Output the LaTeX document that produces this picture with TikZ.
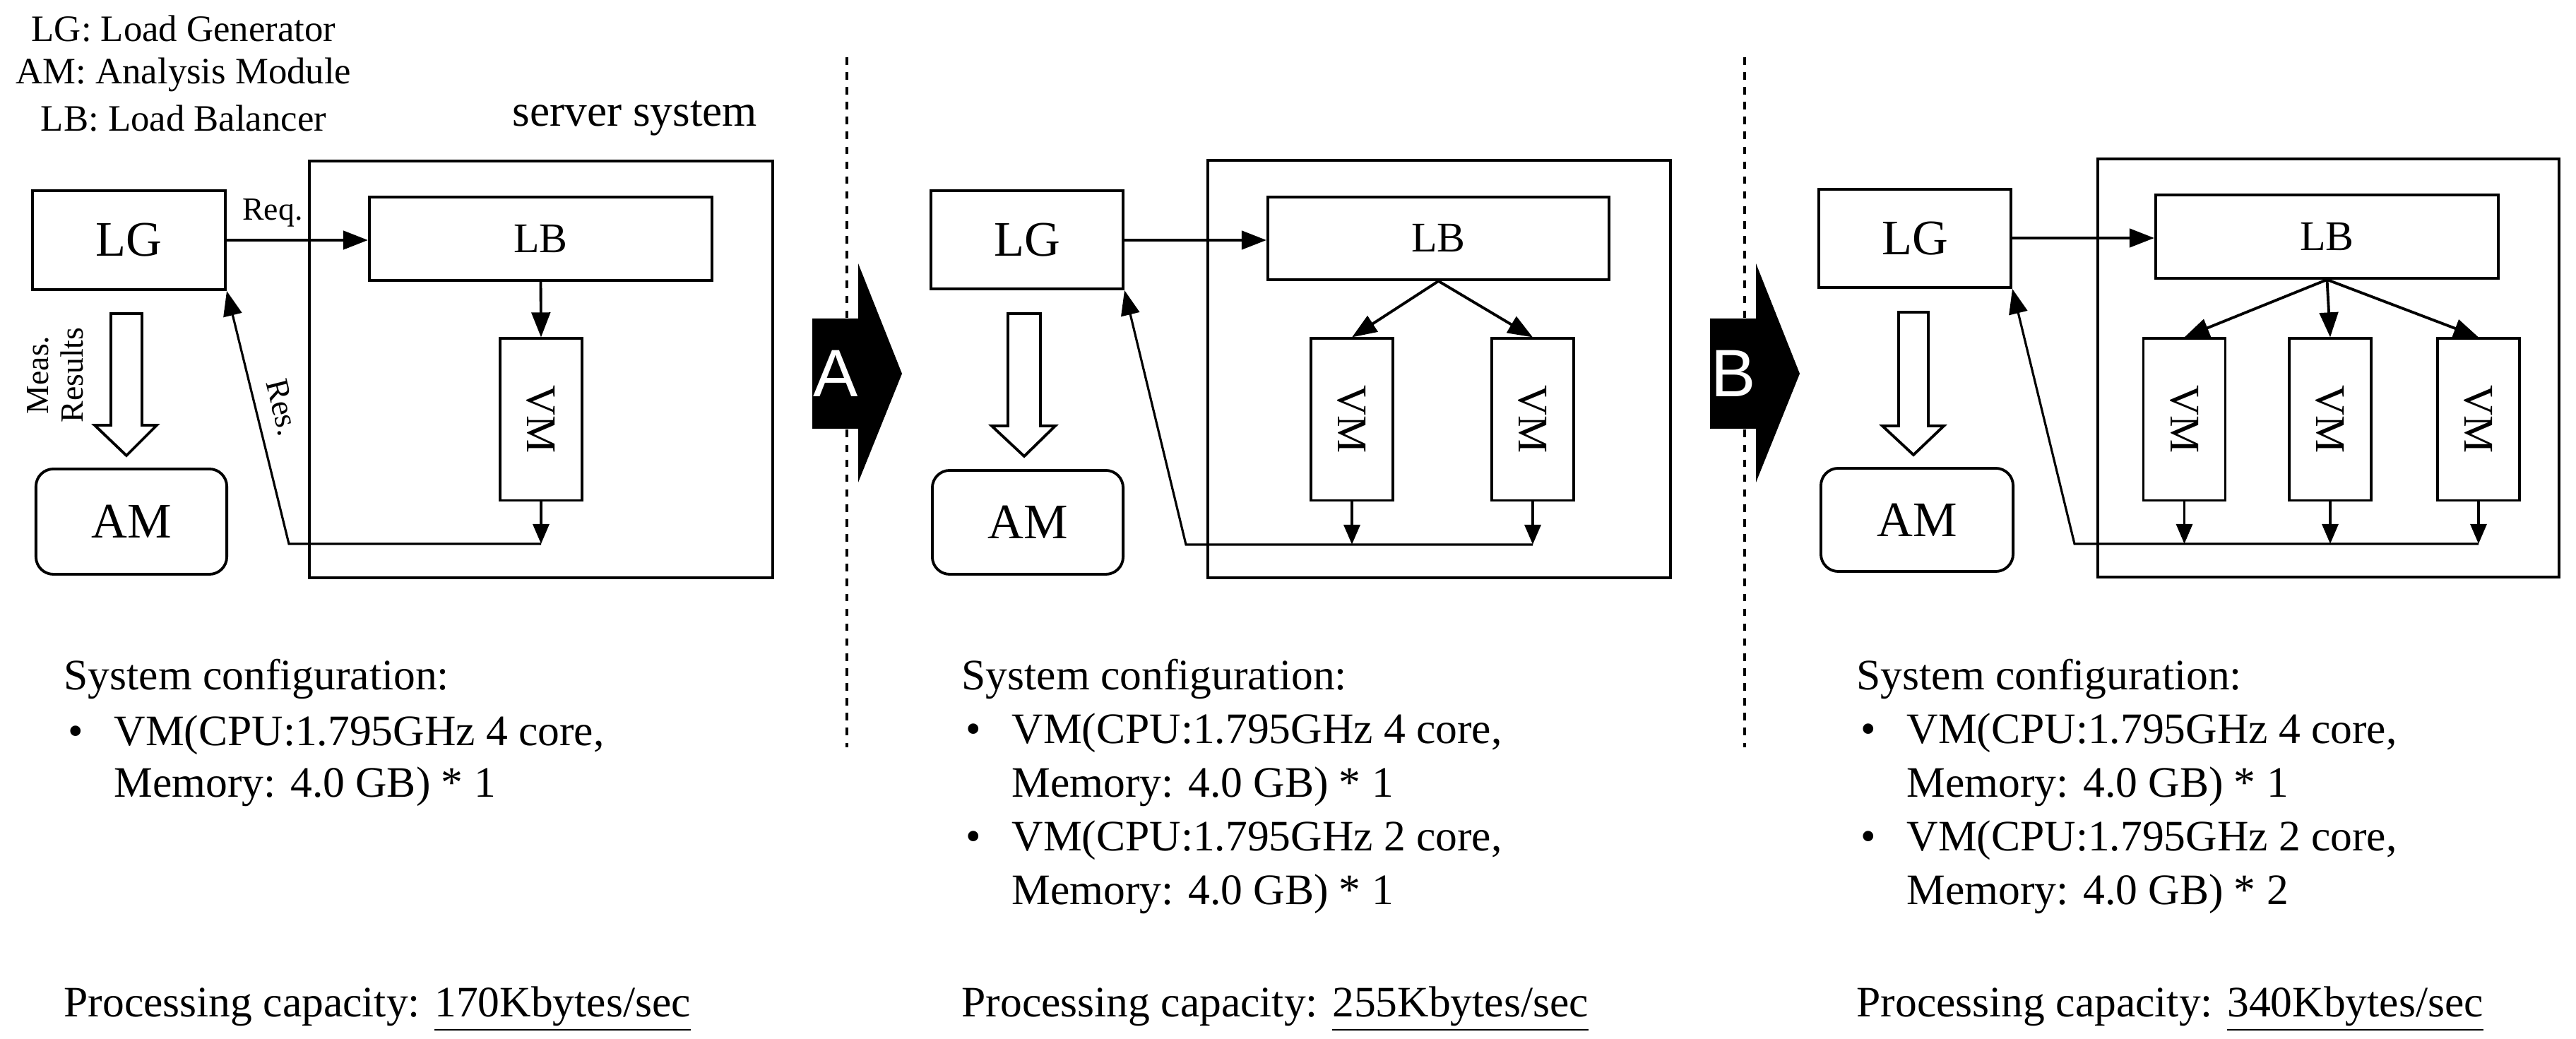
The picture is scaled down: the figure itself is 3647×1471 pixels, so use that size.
\documentclass[tikz,border=0pt]{standalone}
\usepackage{fontspec}
\setmainfont{Liberation Serif}
\newfontfamily\sansA{Liberation Sans}
\usetikzlibrary{arrows.meta}
\begin{document}
\begin{tikzpicture}[x=0.01cm,y=-0.01cm,
  box/.style={draw,line width=1.1pt,inner sep=0pt},
  big/.style={font=\fontsize{20}{24}\selectfont},
  mid/.style={font=\fontsize{17}{20}\selectfont},
  vm/.style={box,minimum width=1.16cm,minimum height=2.29cm},
  con/.style={line width=1.1pt,-{Triangle[length=10pt,width=7.5pt]}},
  dn/.style={line width=1.1pt,-{Triangle[length=8pt,width=6.5pt]}},
  thin/.style={line width=0.9pt},
  hol/.style={draw,line width=1.1pt,fill=white},
  chev/.style={fill=black},
  txt/.style={font=\fontsize{17.5}{20}\selectfont,anchor=base west,inner sep=0pt},
  leg/.style={font=\fontsize{15}{18}\selectfont}]
\useasboundingbox (0,0) rectangle (3647,1471);

% legend
\node[leg] (l1) at (260,41) {LG: Load Generator};
\node[leg] (l2) at (260,106) {AM: Analysis Module};
\node[leg] (l3) at (260,168) {LB: Load Balancer};
\node[font=\fontsize{18}{22}\selectfont] (ss) at (899,168) {server system};

% dashed separators
\draw[dashed,line width=1pt] (1199,81) -- (1199,1058);
\draw[dashed,line width=1pt] (2470,81) -- (2470,1058);

% ===== Panel 1 =====
\node[box,minimum width=2.73cm,minimum height=1.40cm,big] (lg1) at (182.5,340) {LG};
\node[box,minimum width=6.56cm,minimum height=5.90cm] (srv1) at (766,523) {};
\node[box,minimum width=4.85cm,minimum height=1.18cm,mid] (lb1) at (765.5,338) {LB};
\node[vm] (vm1) at (766,594) {};
\node[rotate=-90,mid] (vmt1) at (vm1.center) {VM};
\node[box,rounded corners=7pt,minimum width=2.70cm,minimum height=1.49cm,big] (am1) at (186,738.5) {AM};
\draw[hol] (157,444) -- (201,444) -- (201,602) -- (222,602) -- (179,645) -- (134,602) -- (157,602) -- cycle;
\draw[con] (lg1.east |- 0,340) -- (lb1.west |- 0,340);
\draw[con] (lb1.south) -- (vm1.north);
\node[font=\fontsize{13}{15}\selectfont] (req1) at (386,301) {Req.};
\coordinate (b1) at (766,770);
\coordinate (c1) at (409,770);
\draw[dn] (vm1.south) -- (b1);
\draw[thin,-{Triangle[length=10pt,width=7.5pt]}] (b1) -- (c1) -- (lg1.south east);
\node[font=\fontsize{13}{15}\selectfont,rotate=-76] (res1) at (400,577) {Res.};
\node[font=\fontsize{13}{14}\selectfont,rotate=90,align=center] (meas) at (78,531) {Meas.\\Results};

% chevron A
\fill[chev] (1150,451) -- (1215,451) -- (1215,373) -- (1277,529) -- (1215,683) -- (1215,607) -- (1150,607) -- cycle;
\node[font=\sansA\fontsize{27}{30}\selectfont,text=white] (A) at (1183,529) {A};

% ===== Panel 2 =====
\node[box,minimum width=2.72cm,minimum height=1.39cm,big] (lg2) at (1454,339.5) {LG};
\node[box,minimum width=6.55cm,minimum height=5.91cm] (srv2) at (2037.5,522.5) {};
\node[box,minimum width=4.83cm,minimum height=1.17cm,mid] (lb2) at (2036.5,337.5) {LB};
\node[vm] (vm2a) at (1914,594) {};
\node[vm] (vm2b) at (2170,594) {};
\node[rotate=-90,mid] (vmt2a) at (vm2a.center) {VM};
\node[rotate=-90,mid] (vmt2b) at (vm2b.center) {VM};
\node[box,rounded corners=7pt,minimum width=2.70cm,minimum height=1.47cm,big] (am2) at (1455,739.5) {AM};
\draw[hol] (1427,444) -- (1473,444) -- (1473,603) -- (1494,603) -- (1450,646) -- (1404,603) -- (1427,603) -- cycle;
\draw[con] (lg2.east |- 0,340) -- (lb2.west |- 0,340);
\draw[con] (lb2.south) -- (vm2a.north);
\draw[con] (lb2.south) -- (vm2b.north);
\coordinate (b2a) at (1914,771);
\coordinate (b2b) at (2170,771);
\coordinate (c2) at (1679,771);
\draw[dn] (vm2a.south) -- (b2a);
\draw[dn] (vm2b.south) -- (b2b);
\draw[thin,-{Triangle[length=10pt,width=7.5pt]}] (b2b) -- (c2) -- (lg2.south east);

% chevron B
\fill[chev] (2421,451) -- (2486,451) -- (2486,373) -- (2548,529) -- (2486,683) -- (2486,607) -- (2421,607) -- cycle;
\node[font=\sansA\fontsize{27}{30}\selectfont,text=white] (B) at (2454,529) {B};

% ===== Panel 3 =====
\node[box,minimum width=2.72cm,minimum height=1.39cm,big] (lg3) at (2711,337.5) {LG};
\node[box,minimum width=6.53cm,minimum height=5.92cm] (srv3) at (3296.5,521) {};
\node[box,minimum width=4.85cm,minimum height=1.18cm,mid] (lb3) at (3294.5,335) {LB};
\node[vm] (vm3a) at (3092.5,594) {};
\node[vm] (vm3b) at (3299,594) {};
\node[vm] (vm3c) at (3509,594) {};
\node[rotate=-90,mid] (vmt3a) at (vm3a.center) {VM};
\node[rotate=-90,mid] (vmt3b) at (vm3b.center) {VM};
\node[rotate=-90,mid] (vmt3c) at (vm3c.center) {VM};
\node[box,rounded corners=7pt,minimum width=2.72cm,minimum height=1.46cm,big] (am3) at (2714,736) {AM};
\draw[hol] (2688,442) -- (2730,442) -- (2730,603) -- (2752,603) -- (2709,644) -- (2665,603) -- (2688,603) -- cycle;
\draw[con] (lg3.east |- 0,337) -- (lb3.west |- 0,337);
\draw[con] (lb3.south) -- (vm3a.north);
\draw[con] (lb3.south) -- (vm3b.north);
\draw[con] (lb3.south) -- (vm3c.north);
\coordinate (b3a) at (3092.5,770);
\coordinate (b3b) at (3299,770);
\coordinate (b3c) at (3509,770);
\coordinate (c3) at (2937,770);
\draw[dn] (vm3a.south) -- (b3a);
\draw[dn] (vm3b.south) -- (b3b);
\draw[dn] (vm3c.south) -- (b3c);
\draw[thin,-{Triangle[length=10pt,width=7.5pt]}] (b3c) -- (c3) -- (lg3.south east);

% ===== bottom texts =====
\node[txt] (s1) at (90,977) {System configuration:};
\node[txt] (s1b) at (96,1056) {•};
\node[txt] (s1c) at (161,1056) {VM(CPU:1.795GHz 4 core,};
\node[txt] (s1d) at (161,1129) {Memory: 4.0 GB) * 1};
\node[txt] (p1) at (90,1440) {Processing capacity: \underline{170Kbytes/sec}};

\node[txt] (s2) at (1361,977) {System configuration:};
\node[txt] (s2b) at (1367,1053) {•};
\node[txt] (s2c) at (1432,1053) {VM(CPU:1.795GHz 4 core,};
\node[txt] (s2d) at (1432,1129) {Memory: 4.0 GB) * 1};
\node[txt] (s2e) at (1367,1205) {•};
\node[txt] (s2f) at (1432,1205) {VM(CPU:1.795GHz 2 core,};
\node[txt] (s2g) at (1432,1281) {Memory: 4.0 GB) * 1};
\node[txt] (p2) at (1361,1440) {Processing capacity: \underline{255Kbytes/sec}};

\node[txt] (s3) at (2628,977) {System configuration:};
\node[txt] (s3b) at (2634,1053) {•};
\node[txt] (s3c) at (2699,1053) {VM(CPU:1.795GHz 4 core,};
\node[txt] (s3d) at (2699,1129) {Memory: 4.0 GB) * 1};
\node[txt] (s3e) at (2634,1205) {•};
\node[txt] (s3f) at (2699,1205) {VM(CPU:1.795GHz 2 core,};
\node[txt] (s3g) at (2699,1281) {Memory: 4.0 GB) * 2};
\node[txt] (p3) at (2628,1440) {Processing capacity: \underline{340Kbytes/sec}};
\end{tikzpicture}
\end{document}
